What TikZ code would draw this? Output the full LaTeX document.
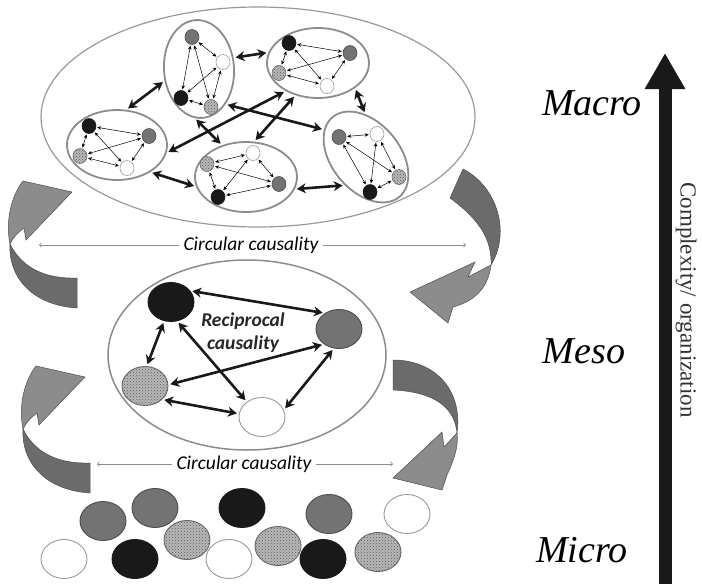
\documentclass[tikz,border=0pt]{standalone}
\usepackage{fontspec}
\setmainfont{Liberation Serif}
\newfontfamily\calfont{Carlito}
\usetikzlibrary{arrows,arrows.meta,shapes.geometric,patterns}

\tikzset{
  ball/.style={ellipse, inner sep=0pt, minimum width=14pt, minimum height=15pt, line width=0.6pt},
  bigball/.style={ellipse, inner sep=0pt, minimum width=46pt, minimum height=39pt, line width=0.9pt},
  blk/.style={fill=black!90, draw=black!90},
  gry/.style={fill=black!55, draw=black!70},
  wht/.style={fill=white, draw=black!40},
  speck/.style={preaction={fill=black!28}, pattern=crosshatch dots, pattern color=black!65, draw=black!60},
  cluster/.style={ellipse, draw=black!45, line width=1.8pt, inner sep=0pt},
  thinlink/.style={{Stealth[length=4pt,width=3.5pt]}-{Stealth[length=4pt,width=3.5pt]}, line width=0.5pt, shorten <=1pt, shorten >=1pt},
  thicklink/.style={{Stealth[length=9pt,width=10pt]}-{Stealth[length=9pt,width=10pt]}, line width=2.6pt, black!90, shorten <=2pt, shorten >=2pt},
  causal/.style={-to, draw=black!45, line width=0.8pt},
  causetext/.style={font=\calfont\itshape\fontsize{19.5}{20}\selectfont, text=black, inner sep=4pt},
  ribbondark/.style={fill=black!58, draw=black!70, line width=0.5pt},
  ribbonlight/.style={fill=black!45, draw=black!70, line width=0.5pt},
  scalelabel/.style={font=\fontsize{38}{40}\selectfont\itshape, anchor=base}
}

\begin{document}
\begin{tikzpicture}[x=1pt,y=-1pt]
\useasboundingbox (0,0) rectangle (702,584);

% curved arrows on the left
\foreach \dx/\dy in {0/0,13/185}{
  \begin{scope}[shift={(\dx,\dy)}]
    \filldraw[ribbondark] (77,278) .. controls (45,279) and (22,268) .. (10,244) .. controls (8,275) and (30,305) .. (77,308) -- cycle;
    \filldraw[ribbonlight] (10,244) .. controls (5,220) and (12,195) .. (23,181) -- (72,192) -- (26,240) -- (24,228) .. controls (18,232) and (13,238) .. (10,244) -- cycle;
  \end{scope}
}
% curved arrows on the right
\filldraw[ribbondark] (450,198) -- (463,169) .. controls (495,185) and (512,230) .. (491,265) .. controls (492,240) and (480,220) .. (450,198) -- cycle;
\filldraw[ribbonlight] (491,265) -- (468,277) -- (475,262) -- (410,292) -- (448,323) -- (453,307) .. controls (472,302) and (488,290) .. (491,265) -- cycle;
\filldraw[ribbondark] (393,360) .. controls (435,360) and (463,390) .. (457,433) .. controls (455,410) and (438,392) .. (393,390) -- cycle;
\filldraw[ribbonlight] (457,433) -- (444,447) -- (442,432) -- (393,478) -- (442,490) -- (447,475) .. controls (453,462) and (459,447) .. (457,433) -- cycle;

% macro level
\node[ellipse, draw=black!40, line width=1.2pt, minimum width=434pt, minimum height=220pt] (macro) at (258,117) {};
\node[cluster, minimum width=70pt, minimum height=98pt, rotate=4] (c1) at (199,69) {};
\node[cluster, minimum width=102pt, minimum height=70pt] (c2) at (318,63) {};
\node[cluster, minimum width=100pt, minimum height=70pt] (c3) at (117,145) {};
\node[cluster, minimum width=102pt, minimum height=70pt] (c4) at (246,177) {};
\node[cluster, minimum width=68pt, minimum height=104pt, rotate=40] (c5) at (366,157) {};

\node[ball,gry] (c1g) at (192,37) {};
\node[ball,wht] (c1w) at (223,62) {};
\node[ball,blk] (c1k) at (181,98) {};
\node[ball,speck] (c1t) at (211,107) {};
\node[ball,blk] (c2k) at (289,43) {};
\node[ball,gry] (c2g) at (350,53) {};
\node[ball,speck] (c2t) at (279,73) {};
\node[ball,wht] (c2w) at (327,86) {};
\node[ball,blk] (c3k) at (89,126) {};
\node[ball,gry] (c3g) at (149,136) {};
\node[ball,speck] (c3t) at (80,156) {};
\node[ball,wht] (c3w) at (127,168) {};
\node[ball,speck] (c4t) at (207,164) {};
\node[ball,wht] (c4w) at (253,153) {};
\node[ball,gry] (c4g) at (279,184) {};
\node[ball,blk] (c4k) at (218,197) {};
\node[ball,gry] (c5g) at (339,137) {};
\node[ball,wht] (c5w) at (377,134) {};
\node[ball,speck] (c5t) at (399,177) {};
\node[ball,blk] (c5k) at (370,192) {};

\foreach \c in {1,...,5}
  \foreach \a/\b in {k/g,k/t,k/w,g/t,g/w,t/w}
    \draw[thinlink] (c\c\a) -- (c\c\b);

\draw[thicklink] (c3.75) -- (c1.195);
\draw[thicklink] (c1.14) -- (c2.168);
\draw[thicklink] (c2.-34) -- (c5.51);
\draw[thicklink] (c4.-14) -- (c5.-167);
\draw[thicklink] (c3.-39) -- (c4.191);
\draw[thicklink] (c1.-99) -- (c4.127);
\draw[thicklink] (c3.-9) -- (c2.-139);
\draw[thicklink] (c4.77) -- (c2.-125);
\draw[thicklink] (c1.-57) -- (c5.107);

% circular causality
\node[causetext] (cc1) at (251,245) {Circular causality};
\coordinate (cc1l) at (39,245);
\coordinate (cc1r) at (466,245);
\draw[causal] (cc1) -- (cc1l);
\draw[causal] (cc1) -- (cc1r);

% meso level
\node[ellipse, draw=black!45, line width=1.5pt, minimum width=278pt, minimum height=190pt] (meso) at (247,355) {};
\node[bigball,blk] (mk) at (171,302) {};
\node[bigball,gry] (mg) at (339,329) {};
\node[bigball,speck] (mt) at (145,386) {};
\node[bigball,wht] (mw) at (262,417) {};
\node[align=center, text=black!85, font=\calfont\bfseries\itshape\fontsize{19.5}{23}\selectfont] (recip) at (243,333) {Reciprocal\\causality};
\draw[thicklink] (mk.30) -- (mg.132);
\draw[thicklink] (mk.-110) -- (mt.85);
\draw[thicklink] (mk.-72) -- (mw.135);
\draw[thicklink] (mt.3) -- (mg.-135);
\draw[thicklink] (mt.-38) -- (mw.172);
\draw[thicklink] (mg.-105) -- (mw.18);

\node[causetext] (cc2) at (244,464) {Circular causality};
\coordinate (cc2l) at (97,464);
\coordinate (cc2r) at (393,464);
\draw[causal] (cc2) -- (cc2l);
\draw[causal] (cc2) -- (cc2r);

% micro level
\foreach \x/\y/\s [count=\i] in {103/521/gry,155/508/gry,242/508/blk,329/514/gry,407/514/wht,64/559/wht,135/559/blk,187/540/speck,229/559/wht,278/546/speck,323/559/blk,378/552/speck}
  \node[bigball,\s] (micro\i) at (\x,\y) {};

% scale of levels
\coordinate (axbot) at (665,590);
\coordinate (axtop) at (665,53);
\draw[line width=13pt, black!90, -{Triangle[length=36pt,width=38pt]}] (axbot) -- (axtop);
\node[rotate=-90, text=black!80, font=\fontsize{23}{24}\selectfont] (cplx) at (686,300) {Complexity/ organization};
\node[scalelabel] (macrolab) at (592,115) {Macro};
\node[scalelabel] (mesolab) at (584,363) {Meso};
\node[scalelabel] (microlab) at (582,562) {Micro};
\end{tikzpicture}
\end{document}
